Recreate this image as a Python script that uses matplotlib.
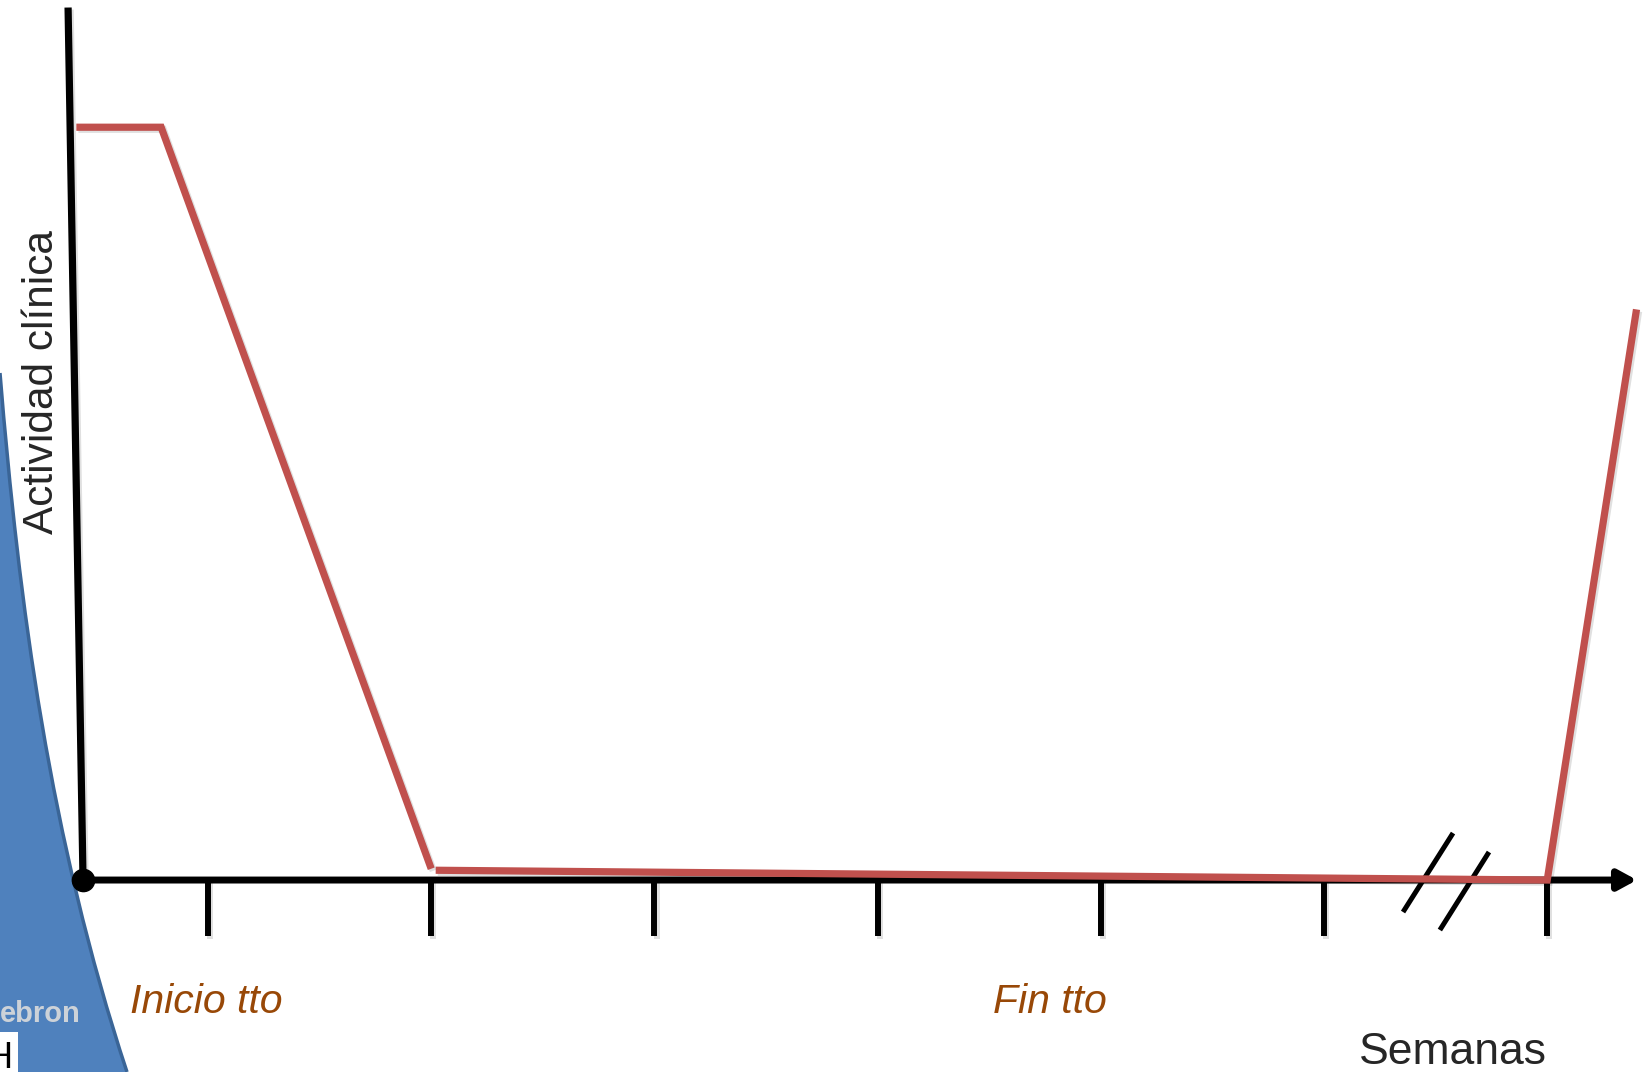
import numpy as np
import matplotlib
matplotlib.use("Agg")
import matplotlib.pyplot as plt
import matplotlib.patheffects as pe
from matplotlib.patches import PathPatch, Rectangle
from matplotlib.path import Path

plt.rcParams['font.family'] = ['Liberation Sans', 'DejaVu Sans']

# weeks marked on the time axis
tick_weeks = [1, 2, 3, 4, 5, 6, 7]

# clinical activity: falls after treatment starts, stays flat, relapses later
drop_weeks = [0.41, 0.79, 2.0]
drop_activity = [100, 100, 1.5]
relapse_weeks = [2.02, 7.0, 7.40]
relapse_activity = [1.3, 0.0, 75.8]

# phase labels under the axis (week where each is centred)
phase_names = ["Inicio tto", "Fin tto"]
phase_weeks = [0.99, 4.77]

# the two slashes of the axis break
break_x = [[6.354, 6.578], [6.519, 6.739]]
break_y = [[-4.25, 6.24], [-6.64, 3.72]]

RED = '#C0504D'
BROWN = '#984807'

fig = plt.figure(figsize=(16.47, 10.72), dpi=100)

# background layer in pixel units: blue swoosh of the slide template
bg = fig.add_axes([0, 0, 1, 1])
bg.set_xlim(0, 1647)
bg.set_ylim(1072, 0)
bg.axis('off')
swoosh = Path([(0, 373), (19, 606), (50, 839), (127, 1072), (0, 1072), (0, 373)],
              [Path.MOVETO, Path.CURVE4, Path.CURVE4, Path.CURVE4,
               Path.LINETO, Path.CLOSEPOLY])
bg.add_patch(PathPatch(swoosh, facecolor='#4F81BD', edgecolor='none'))
edge = Path([(0, 373), (19, 606), (50, 839), (127, 1072)],
            [Path.MOVETO, Path.CURVE4, Path.CURVE4, Path.CURVE4])
bg.add_patch(PathPatch(edge, facecolor='none', edgecolor='#3A6597', lw=2.5))
bg.text(0, 1022, "ebron", color='#CDD2D8', fontsize=21, fontweight='bold',
        ha='left', va='baseline')
bg.add_patch(Rectangle((0, 1032), 18, 40, facecolor='white', edgecolor='none'))
bg.text(13, 1068, "H", color='black', fontsize=26, ha='right', va='baseline')

# diagram layer in weeks / activity units
ax = fig.add_axes([0, 0, 1, 1])
ax.patch.set_alpha(0)
ax.set_xlim(0.068, 7.447)
ax.set_ylim(-25.5, 116.9)
ax.axis('off')

shadow = [pe.SimpleLineShadow(offset=(1.5, -1.5), alpha=0.12), pe.Normal()]

origin = 0.44
# vertical axis, drawn slightly leaning
ax.plot([origin, 0.373], [0, 115.9], color='black', lw=5.2,
        solid_capstyle='butt', path_effects=shadow, zorder=2)
# horizontal axis with arrow head
ax.annotate('', xy=(7.402, 0), xytext=(origin, 0),
            arrowprops=dict(arrowstyle='-|>,head_length=1.1,head_width=0.6',
                            color='black', lw=5, shrinkA=0, shrinkB=0),
            zorder=2)
ax.plot([origin], [0], 'o', color='black', ms=16, zorder=3)

for w in tick_weeks:
    ax.plot([w, w], [0, -7.5], color='black', lw=4.3,
            solid_capstyle='butt', path_effects=shadow, zorder=2)

for bx, by in zip(break_x, break_y):
    ax.plot(bx, by, color='black', lw=3.6, solid_capstyle='butt', zorder=2)

ax.plot(drop_weeks, drop_activity, color=RED, lw=5.2,
        solid_capstyle='butt', solid_joinstyle='miter',
        path_effects=shadow, zorder=4)
ax.plot(relapse_weeks, relapse_activity, color=RED, lw=5.2,
        solid_capstyle='butt', solid_joinstyle='miter',
        path_effects=shadow, zorder=4)

for name, w in zip(phase_names, phase_weeks):
    ax.text(w, -17.7, name, color=BROWN, fontsize=29.5, style='italic',
            ha='center', va='baseline')

ax.text(6.578, -24.4, "Semanas", color='#262626', fontsize=32,
        ha='center', va='baseline')
ax.text(0.3056, 66.1, "Actividad clínica", color='#262626', fontsize=30.5,
        rotation=90, rotation_mode='anchor', ha='center', va='baseline')

fig.savefig('out.png', dpi=100)
